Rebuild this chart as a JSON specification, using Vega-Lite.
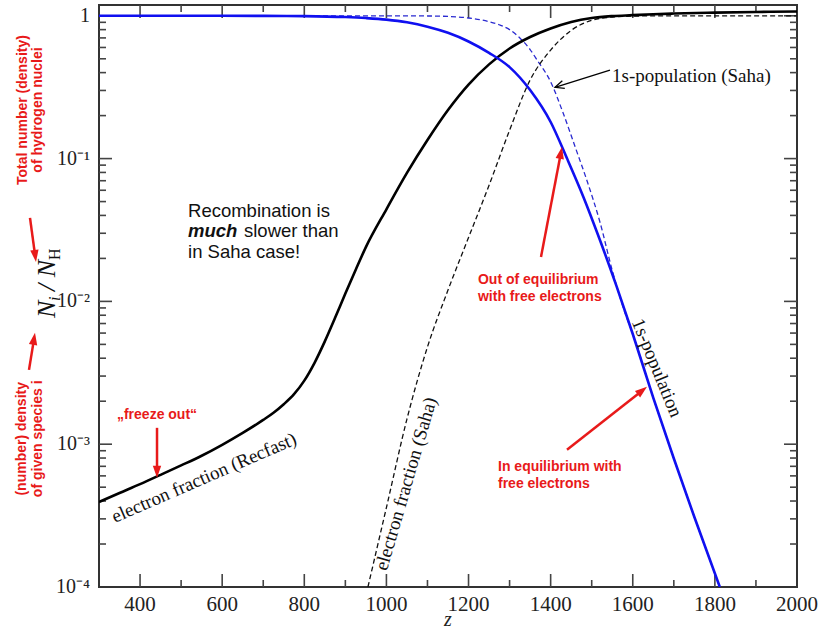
{
  "$schema": "https://vega.github.io/schema/vega-lite/v6.json",
  "width": 698,
  "height": 582,
  "autosize": "none",
  "padding": {"left": 99, "top": 5, "right": 24, "bottom": 45},
  "background": "white",
  "config": {"view": {"stroke": "#333", "strokeWidth": 2}},
  "datasets": {
    "xe_recfast": [
      {"z": 300, "v": 0.000394}, {"z": 350, "v": 0.000455}, {"z": 400, "v": 0.000525}, {"z": 450, "v": 0.00061},
      {"z": 500, "v": 0.00071}, {"z": 550, "v": 0.00083}, {"z": 600, "v": 0.00099}, {"z": 650, "v": 0.0012},
      {"z": 700, "v": 0.001479}, {"z": 725, "v": 0.00166}, {"z": 750, "v": 0.001905}, {"z": 775, "v": 0.002239},
      {"z": 800, "v": 0.002786}, {"z": 825, "v": 0.003715}, {"z": 850, "v": 0.005248}, {"z": 875, "v": 0.007674},
      {"z": 900, "v": 0.01135}, {"z": 925, "v": 0.0166}, {"z": 950, "v": 0.02399}, {"z": 1000, "v": 0.04416},
      {"z": 1050, "v": 0.0794}, {"z": 1100, "v": 0.135}, {"z": 1150, "v": 0.219}, {"z": 1200, "v": 0.33},
      {"z": 1250, "v": 0.457}, {"z": 1300, "v": 0.59}, {"z": 1350, "v": 0.71}, {"z": 1400, "v": 0.815},
      {"z": 1450, "v": 0.905}, {"z": 1500, "v": 0.965}, {"z": 1550, "v": 0.995}, {"z": 1600, "v": 1.01},
      {"z": 1650, "v": 1.025}, {"z": 1700, "v": 1.037}, {"z": 1800, "v": 1.052}, {"z": 1900, "v": 1.063}, {"z": 2000, "v": 1.072}
    ],
    "x1s": [
      {"z": 300, "v": 1}, {"z": 600, "v": 1}, {"z": 700, "v": 0.999}, {"z": 800, "v": 0.995}, {"z": 900, "v": 0.98},
      {"z": 950, "v": 0.964}, {"z": 1000, "v": 0.94}, {"z": 1050, "v": 0.9}, {"z": 1100, "v": 0.839},
      {"z": 1150, "v": 0.76}, {"z": 1200, "v": 0.661}, {"z": 1250, "v": 0.55}, {"z": 1300, "v": 0.437},
      {"z": 1350, "v": 0.302}, {"z": 1400, "v": 0.1804}, {"z": 1440, "v": 0.1}, {"z": 1480, "v": 0.0537},
      {"z": 1520, "v": 0.0269}, {"z": 1560, "v": 0.0129}, {"z": 1600, "v": 0.00591}, {"z": 1650, "v": 0.002113},
      {"z": 1700, "v": 0.000794}, {"z": 1750, "v": 0.000309}, {"z": 1812, "v": 0.0001}
    ],
    "xe_saha": [
      {"z": 955, "v": 0.0001}, {"z": 1000, "v": 0.00036}, {"z": 1050, "v": 0.0015}, {"z": 1100, "v": 0.0048},
      {"z": 1150, "v": 0.012}, {"z": 1200, "v": 0.028}, {"z": 1250, "v": 0.065}, {"z": 1300, "v": 0.158},
      {"z": 1350, "v": 0.355}, {"z": 1400, "v": 0.575}, {"z": 1450, "v": 0.79}, {"z": 1500, "v": 0.93},
      {"z": 1550, "v": 0.98}, {"z": 1600, "v": 0.995}, {"z": 1700, "v": 1.0}, {"z": 2000, "v": 1.0}
    ],
    "x1s_saha": [
      {"z": 300, "v": 1}, {"z": 1100, "v": 0.997}, {"z": 1150, "v": 0.99}, {"z": 1200, "v": 0.965},
      {"z": 1250, "v": 0.91}, {"z": 1277, "v": 0.86}, {"z": 1300, "v": 0.8}, {"z": 1325, "v": 0.7},
      {"z": 1350, "v": 0.58}, {"z": 1367, "v": 0.49}, {"z": 1400, "v": 0.345}, {"z": 1430, "v": 0.21},
      {"z": 1460, "v": 0.12}, {"z": 1490, "v": 0.068}, {"z": 1520, "v": 0.036}, {"z": 1550, "v": 0.0165},
      {"z": 1580, "v": 0.0085}, {"z": 1600, "v": 0.00591}, {"z": 1650, "v": 0.002113}, {"z": 1700, "v": 0.000794},
      {"z": 1750, "v": 0.000309}, {"z": 1812, "v": 0.0001}
    ],
    "ticks": [
      {"z": 400, "v": 0.0001, "z2": 400, "v2": 0.0001233}, {"z": 600, "v": 0.0001, "z2": 600, "v2": 0.0001233},
      {"z": 800, "v": 0.0001, "z2": 800, "v2": 0.0001233}, {"z": 1000, "v": 0.0001, "z2": 1000, "v2": 0.0001233},
      {"z": 1200, "v": 0.0001, "z2": 1200, "v2": 0.0001233}, {"z": 1400, "v": 0.0001, "z2": 1400, "v2": 0.0001233},
      {"z": 1600, "v": 0.0001, "z2": 1600, "v2": 0.0001233}, {"z": 1800, "v": 0.0001, "z2": 1800, "v2": 0.0001233},
      {"z": 500, "v": 0.0001, "z2": 500, "v2": 0.000112}, {"z": 700, "v": 0.0001, "z2": 700, "v2": 0.000112},
      {"z": 900, "v": 0.0001, "z2": 900, "v2": 0.000112}, {"z": 1100, "v": 0.0001, "z2": 1100, "v2": 0.000112},
      {"z": 1300, "v": 0.0001, "z2": 1300, "v2": 0.000112}, {"z": 1500, "v": 0.0001, "z2": 1500, "v2": 0.000112},
      {"z": 1700, "v": 0.0001, "z2": 1700, "v2": 0.000112}, {"z": 1900, "v": 0.0001, "z2": 1900, "v2": 0.000112},
      {"z": 400, "v": 1.19, "z2": 400, "v2": 0.965}, {"z": 600, "v": 1.19, "z2": 600, "v2": 0.965},
      {"z": 800, "v": 1.19, "z2": 800, "v2": 0.965}, {"z": 1000, "v": 1.19, "z2": 1000, "v2": 0.965},
      {"z": 1200, "v": 1.19, "z2": 1200, "v2": 0.965}, {"z": 1400, "v": 1.19, "z2": 1400, "v2": 0.965},
      {"z": 1600, "v": 1.19, "z2": 1600, "v2": 0.965}, {"z": 1800, "v": 1.19, "z2": 1800, "v2": 0.965},
      {"z": 500, "v": 1.19, "z2": 500, "v2": 1.063}, {"z": 700, "v": 1.19, "z2": 700, "v2": 1.063},
      {"z": 900, "v": 1.19, "z2": 900, "v2": 1.063}, {"z": 1100, "v": 1.19, "z2": 1100, "v2": 1.063},
      {"z": 1300, "v": 1.19, "z2": 1300, "v2": 1.063}, {"z": 1500, "v": 1.19, "z2": 1500, "v2": 1.063},
      {"z": 1700, "v": 1.19, "z2": 1700, "v2": 1.063}, {"z": 1900, "v": 1.19, "z2": 1900, "v2": 1.063},
      {"z": 300, "v": 0.001, "z2": 331.7, "v2": 0.001}, {"z": 300, "v": 0.01, "z2": 331.7, "v2": 0.01},
      {"z": 300, "v": 0.1, "z2": 331.7, "v2": 0.1}, {"z": 300, "v": 1, "z2": 331.7, "v2": 1},
      {"z": 2000, "v": 0.001, "z2": 1968.3, "v2": 0.001}, {"z": 2000, "v": 0.01, "z2": 1968.3, "v2": 0.01},
      {"z": 2000, "v": 0.1, "z2": 1968.3, "v2": 0.1}, {"z": 2000, "v": 1, "z2": 1968.3, "v2": 1},
      {"z": 300, "v": 0.0002, "z2": 317.05, "v2": 0.0002}, {"z": 300, "v": 0.0003, "z2": 317.05, "v2": 0.0003},
      {"z": 300, "v": 0.0004, "z2": 317.05, "v2": 0.0004}, {"z": 300, "v": 0.0005, "z2": 317.05, "v2": 0.0005},
      {"z": 300, "v": 0.0006, "z2": 317.05, "v2": 0.0006}, {"z": 300, "v": 0.0007, "z2": 317.05, "v2": 0.0007},
      {"z": 300, "v": 0.0008, "z2": 317.05, "v2": 0.0008}, {"z": 300, "v": 0.0009, "z2": 317.05, "v2": 0.0009},
      {"z": 300, "v": 0.002, "z2": 317.05, "v2": 0.002}, {"z": 300, "v": 0.003, "z2": 317.05, "v2": 0.003},
      {"z": 300, "v": 0.004, "z2": 317.05, "v2": 0.004}, {"z": 300, "v": 0.005, "z2": 317.05, "v2": 0.005},
      {"z": 300, "v": 0.006, "z2": 317.05, "v2": 0.006}, {"z": 300, "v": 0.007, "z2": 317.05, "v2": 0.007},
      {"z": 300, "v": 0.008, "z2": 317.05, "v2": 0.008}, {"z": 300, "v": 0.009, "z2": 317.05, "v2": 0.009},
      {"z": 300, "v": 0.02, "z2": 317.05, "v2": 0.02}, {"z": 300, "v": 0.03, "z2": 317.05, "v2": 0.03},
      {"z": 300, "v": 0.04, "z2": 317.05, "v2": 0.04}, {"z": 300, "v": 0.05, "z2": 317.05, "v2": 0.05},
      {"z": 300, "v": 0.06, "z2": 317.05, "v2": 0.06}, {"z": 300, "v": 0.07, "z2": 317.05, "v2": 0.07},
      {"z": 300, "v": 0.08, "z2": 317.05, "v2": 0.08}, {"z": 300, "v": 0.09, "z2": 317.05, "v2": 0.09},
      {"z": 300, "v": 0.2, "z2": 317.05, "v2": 0.2}, {"z": 300, "v": 0.3, "z2": 317.05, "v2": 0.3},
      {"z": 300, "v": 0.4, "z2": 317.05, "v2": 0.4}, {"z": 300, "v": 0.5, "z2": 317.05, "v2": 0.5},
      {"z": 300, "v": 0.6, "z2": 317.05, "v2": 0.6}, {"z": 300, "v": 0.7, "z2": 317.05, "v2": 0.7},
      {"z": 300, "v": 0.8, "z2": 317.05, "v2": 0.8}, {"z": 300, "v": 0.9, "z2": 317.05, "v2": 0.9},
      {"z": 2000, "v": 0.0002, "z2": 1982.95, "v2": 0.0002}, {"z": 2000, "v": 0.0003, "z2": 1982.95, "v2": 0.0003},
      {"z": 2000, "v": 0.0004, "z2": 1982.95, "v2": 0.0004}, {"z": 2000, "v": 0.0005, "z2": 1982.95, "v2": 0.0005},
      {"z": 2000, "v": 0.0006, "z2": 1982.95, "v2": 0.0006}, {"z": 2000, "v": 0.0007, "z2": 1982.95, "v2": 0.0007},
      {"z": 2000, "v": 0.0008, "z2": 1982.95, "v2": 0.0008}, {"z": 2000, "v": 0.0009, "z2": 1982.95, "v2": 0.0009},
      {"z": 2000, "v": 0.002, "z2": 1982.95, "v2": 0.002}, {"z": 2000, "v": 0.003, "z2": 1982.95, "v2": 0.003},
      {"z": 2000, "v": 0.004, "z2": 1982.95, "v2": 0.004}, {"z": 2000, "v": 0.005, "z2": 1982.95, "v2": 0.005},
      {"z": 2000, "v": 0.006, "z2": 1982.95, "v2": 0.006}, {"z": 2000, "v": 0.007, "z2": 1982.95, "v2": 0.007},
      {"z": 2000, "v": 0.008, "z2": 1982.95, "v2": 0.008}, {"z": 2000, "v": 0.009, "z2": 1982.95, "v2": 0.009},
      {"z": 2000, "v": 0.02, "z2": 1982.95, "v2": 0.02}, {"z": 2000, "v": 0.03, "z2": 1982.95, "v2": 0.03},
      {"z": 2000, "v": 0.04, "z2": 1982.95, "v2": 0.04}, {"z": 2000, "v": 0.05, "z2": 1982.95, "v2": 0.05},
      {"z": 2000, "v": 0.06, "z2": 1982.95, "v2": 0.06}, {"z": 2000, "v": 0.07, "z2": 1982.95, "v2": 0.07},
      {"z": 2000, "v": 0.08, "z2": 1982.95, "v2": 0.08}, {"z": 2000, "v": 0.09, "z2": 1982.95, "v2": 0.09},
      {"z": 2000, "v": 0.2, "z2": 1982.95, "v2": 0.2}, {"z": 2000, "v": 0.3, "z2": 1982.95, "v2": 0.3},
      {"z": 2000, "v": 0.4, "z2": 1982.95, "v2": 0.4}, {"z": 2000, "v": 0.5, "z2": 1982.95, "v2": 0.5},
      {"z": 2000, "v": 0.6, "z2": 1982.95, "v2": 0.6}, {"z": 2000, "v": 0.7, "z2": 1982.95, "v2": 0.7},
      {"z": 2000, "v": 0.8, "z2": 1982.95, "v2": 0.8}, {"z": 2000, "v": 0.9, "z2": 1982.95, "v2": 0.9}
    ],
    "xlabels": [
      {"t": "400", "z": 400, "v": 0.0001}, {"t": "600", "z": 600, "v": 0.0001}, {"t": "800", "z": 800, "v": 0.0001},
      {"t": "1000", "z": 1000, "v": 0.0001}, {"t": "1200", "z": 1200, "v": 0.0001}, {"t": "1400", "z": 1400, "v": 0.0001},
      {"t": "1600", "z": 1600, "v": 0.0001}, {"t": "1800", "z": 1800, "v": 0.0001}, {"t": "2000", "z": 2000, "v": 0.0001}
    ],
    "ylabels": [
      {"t": "1", "z": 300, "v": 1}, {"t": "10⁻¹", "z": 300, "v": 0.1}, {"t": "10⁻²", "z": 300, "v": 0.01},
      {"t": "10⁻³", "z": 300, "v": 0.001}, {"t": "10⁻⁴", "z": 300, "v": 0.0001}
    ],
    "red_arrows": [
      {"z": 441.3, "v": 0.001302, "z2": 441.3, "v2": 0.000631},
      {"z": 1376.5, "v": 0.02048, "z2": 1425.4, "v2": 0.1114},
      {"z": 1439.8, "v": 0.000914, "z2": 1625.1, "v2": 0.002399},
      {"z": 131.95, "v": 0.0384, "z2": 144.9, "v2": 0.02048},
      {"z": 129.5, "v": 0.003316, "z2": 142.2, "v2": 0.005554}
    ],
    "red_texts": [
      {"t": "Out of equilibrium", "z": 1223.0, "v": 0.01326},
      {"t": "with free electrons", "z": 1223.0, "v": 0.01008},
      {"t": "In equilibrium with", "z": 1271.8, "v": 0.000652},
      {"t": "free electrons", "z": 1271.8, "v": 0.000495}
    ],
    "red_rot": [
      {"t": "Total number (density)", "z": 114.9, "v": 0.2188},
      {"t": "of hydrogen nuclei", "z": 151.4, "v": 0.2188},
      {"t": "(number) density", "z": 112.5, "v": 0.001091},
      {"t": "of given species i", "z": 151.4, "v": 0.001091}
    ],
    "black_sans": [
      {"t": "Recombination is", "z": 516.8, "v": 0.03922},
      {"t": "slower than", "z": 653.1, "v": 0.02804},
      {"t": "in Saha case!", "z": 516.8, "v": 0.02006}
    ]
  },
  "encoding": {
    "x": {"field": "z", "type": "quantitative", "scale": {"domain": [300, 2000], "nice": false, "zero": false}, "axis": null},
    "y": {"field": "v", "type": "quantitative", "scale": {"type": "log", "domain": [0.0001, 1.19], "nice": false}, "axis": null}
  },
  "layer": [
    {
      "data": {"name": "ticks"},
      "mark": {"type": "rule", "color": "#444", "strokeWidth": 1.6},
      "encoding": {
        "x": {"field": "z", "type": "quantitative", "scale": {"domain": [300, 2000], "nice": false, "zero": false},
          "axis": {"orient": "bottom", "values": [400, 600, 800, 1000, 1200, 1400, 1600, 1800, 2000],
            "format": "d", "ticks": false, "domain": false, "grid": false,
            "labelFont": "Liberation Serif", "labelFontSize": 21, "labelColor": "#222", "labelPadding": 7,
            "labelFlush": false, "labelOverlap": false, "title": null}},
        "y": {"field": "v", "type": "quantitative", "scale": {"type": "log", "domain": [0.0001, 1.19], "nice": false},
          "axis": {"orient": "left",
            "values": [0.0001, 0.001, 0.01, 0.1, 1],
            "labelExpr": "datum.value == 1 ? '1' : datum.value == 0.1 ? '10⁻¹' : datum.value == 0.01 ? '10⁻²' : datum.value == 0.001 ? '10⁻³' : '10⁻⁴'",
            "ticks": false, "domain": false, "grid": false,
            "labelFont": "Liberation Serif", "labelFontSize": 20, "labelColor": "#222", "labelPadding": 9,
            "labelFlush": false, "labelOverlap": false, "title": null}},
        "x2": {"field": "z2"},
        "y2": {"field": "v2"}
      }
    },
    {
      "data": {"name": "xlabels"},
      "mark": {"type": "text", "align": "center", "baseline": "top", "dy": 7, "font": "Liberation Serif", "fontSize": 21, "color": "#222"},
      "encoding": {"text": {"field": "t"}}
    },
    {
      "data": {"name": "ylabels"},
      "mark": {"type": "text", "align": "right", "baseline": "middle", "dx": -9, "font": "Liberation Serif", "fontSize": 20, "color": "#222"},
      "encoding": {"text": {"field": "t"}}
    },
    {
      "data": {"name": "x1s_saha"},
      "mark": {"type": "line", "color": "#2a2ad0", "strokeWidth": 1.3, "strokeDash": [5, 3], "interpolate": "monotone", "clip": true}
    },
    {
      "data": {"name": "xe_saha"},
      "mark": {"type": "line", "color": "#111", "strokeWidth": 1.3, "strokeDash": [5, 3], "interpolate": "monotone", "clip": true}
    },
    {
      "data": {"name": "xe_recfast"},
      "mark": {"type": "line", "color": "#000", "strokeWidth": 2.6, "interpolate": "monotone", "clip": true}
    },
    {
      "data": {"name": "x1s"},
      "mark": {"type": "line", "color": "#1010f0", "strokeWidth": 2.6, "interpolate": "monotone", "clip": true}
    },
    {
      "data": {"name": "red_arrows"},
      "mark": {"type": "rule", "color": "#e81a1a", "strokeWidth": 2.5},
      "encoding": {"x2": {"field": "z2"}, "y2": {"field": "v2"}}
    },
    {
      "data": {"values": [{"z": 1544.5, "v": 0.4169, "z2": 1410.6, "v2": 0.3155}]},
      "mark": {"type": "rule", "color": "#000", "strokeWidth": 1.3},
      "encoding": {"x2": {"field": "z2"}, "y2": {"field": "v2"}}
    },
    {
      "data": {"values": [{"z": 441.3, "v": 0.000582}]},
      "mark": {"type": "point", "shape": "M0,0L-0.35,-1L0.35,-1Z", "filled": true, "color": "#e81a1a", "opacity": 1, "size": 576, "angle": 0}
    },
    {
      "data": {"values": [{"z": 1427.6, "v": 0.1206}]},
      "mark": {"type": "point", "shape": "M0,0L-0.35,-1L0.35,-1Z", "filled": true, "color": "#e81a1a", "opacity": 1, "size": 576, "angle": 190.8}
    },
    {
      "data": {"values": [{"z": 1634.6, "v": 0.002523}]},
      "mark": {"type": "point", "shape": "M0,0L-0.35,-1L0.35,-1Z", "filled": true, "color": "#e81a1a", "opacity": 1, "size": 576, "angle": 231.8}
    },
    {
      "data": {"values": [{"z": 146.6, "v": 0.0189}]},
      "mark": {"type": "point", "shape": "M0,0L-0.35,-1L0.35,-1Z", "filled": true, "color": "#e81a1a", "opacity": 1, "size": 576, "angle": 352.2}
    },
    {
      "data": {"values": [{"z": 144.1, "v": 0.00602}]},
      "mark": {"type": "point", "shape": "M0,0L-0.35,-1L0.35,-1Z", "filled": true, "color": "#e81a1a", "opacity": 1, "size": 576, "angle": 189.2}
    },
    {
      "data": {"values": [{"z": 1410.6, "v": 0.3155}]},
      "mark": {"type": "point", "shape": "M-0.45,-1L0,0L0.45,-1", "filled": false, "color": "#000", "strokeWidth": 1.3, "opacity": 1, "size": 324, "angle": 72.2}
    },
    {
      "data": {"name": "red_texts"},
      "mark": {"type": "text", "align": "left", "baseline": "alphabetic", "font": "Liberation Sans", "fontWeight": "bold", "fontSize": 14, "color": "#e81a1a"},
      "encoding": {"text": {"field": "t"}}
    },
    {
      "data": {"values": [{"t": "„freeze out“", "z": 441.3, "v": 0.001506}]},
      "mark": {"type": "text", "align": "center", "baseline": "alphabetic", "font": "Liberation Sans", "fontWeight": "bold", "fontSize": 14, "color": "#e81a1a"},
      "encoding": {"text": {"field": "t"}}
    },
    {
      "data": {"name": "red_rot"},
      "mark": {"type": "text", "align": "center", "baseline": "middle", "angle": 270, "font": "Liberation Sans", "fontWeight": "bold", "fontSize": 14, "color": "#e81a1a"},
      "encoding": {"text": {"field": "t"}}
    },
    {
      "data": {"name": "black_sans"},
      "mark": {"type": "text", "align": "left", "baseline": "alphabetic", "font": "Liberation Sans", "fontSize": 18.5, "color": "#111"},
      "encoding": {"text": {"field": "t"}}
    },
    {
      "data": {"values": [{"t": "much", "z": 516.8, "v": 0.02804}]},
      "mark": {"type": "text", "align": "left", "baseline": "alphabetic", "font": "Liberation Sans", "fontSize": 18.5, "fontWeight": "bold", "fontStyle": "italic", "color": "#111"},
      "encoding": {"text": {"field": "t"}}
    },
    {
      "data": {"values": [{"t": "1s-population (Saha)", "z": 1549.4, "v": 0.3436}]},
      "mark": {"type": "text", "align": "left", "baseline": "alphabetic", "font": "Liberation Serif", "fontSize": 19, "color": "#111"},
      "encoding": {"text": {"field": "t"}}
    },
    {
      "data": {"values": [{"t": "electron fraction (Recfast)", "z": 555.7, "v": 0.000582}]},
      "mark": {"type": "text", "align": "center", "baseline": "middle", "angle": 336.5, "font": "Liberation Serif", "fontSize": 19, "color": "#111"},
      "encoding": {"text": {"field": "t"}}
    },
    {
      "data": {"values": [{"t": "electron fraction (Saha)", "z": 1047.7, "v": 0.000528}]},
      "mark": {"type": "text", "align": "center", "baseline": "middle", "angle": 286.2, "font": "Liberation Serif", "fontSize": 19, "color": "#111"},
      "encoding": {"text": {"field": "t"}}
    },
    {
      "data": {"values": [{"t": "1s-population", "z": 1659.0, "v": 0.003424}]},
      "mark": {"type": "text", "align": "center", "baseline": "middle", "angle": 67.6, "font": "Liberation Serif", "fontSize": 19, "color": "#111"},
      "encoding": {"text": {"field": "t"}}
    },
    {
      "data": {"values": [{"t": "z", "z": 1150, "v": 0.0000532}]},
      "mark": {"type": "text", "align": "center", "baseline": "alphabetic", "font": "Liberation Serif", "fontStyle": "italic", "fontSize": 20, "color": "#222"},
      "encoding": {"text": {"field": "t"}}
    },
    {
      "data": {"values": [{"t": "N", "z": 192.8, "v": 0.00766}, {"t": "/ N", "z": 192.8, "v": 0.01184}]},
      "mark": {"type": "text", "align": "left", "baseline": "alphabetic", "angle": 270, "font": "Liberation Serif", "fontStyle": "italic", "fontSize": 26, "color": "#111"},
      "encoding": {"text": {"field": "t"}}
    },
    {
      "data": {"values": [{"t": "i", "z": 205.0, "v": 0.01008}]},
      "mark": {"type": "text", "align": "left", "baseline": "alphabetic", "angle": 270, "font": "Liberation Serif", "fontStyle": "italic", "fontSize": 16, "color": "#111"},
      "encoding": {"text": {"field": "t"}}
    },
    {
      "data": {"values": [{"t": "H", "z": 205.0, "v": 0.01952}]},
      "mark": {"type": "text", "align": "left", "baseline": "alphabetic", "angle": 270, "font": "Liberation Serif", "fontSize": 16, "color": "#111"},
      "encoding": {"text": {"field": "t"}}
    }
  ]
}
